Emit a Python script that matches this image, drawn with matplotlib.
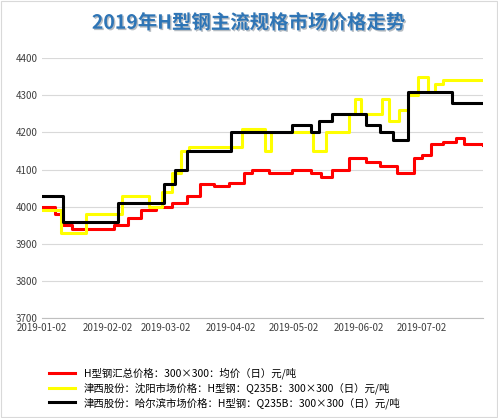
import matplotlib
matplotlib.use("Agg")
import matplotlib.pyplot as plt
import matplotlib.dates as mdates
import pandas as pd
import matplotlib.patheffects as pe

plt.rcParams['font.family'] = ['Noto Sans CJK SC', 'DejaVu Sans']

red_dates = ["2019-01-02","2019-01-08","2019-01-12","2019-01-16","2019-02-05","2019-02-12","2019-02-18","2019-02-25","2019-03-05","2019-03-12","2019-03-18","2019-03-25","2019-04-01","2019-04-08","2019-04-12","2019-04-20","2019-05-01","2019-05-10","2019-05-15","2019-05-20","2019-05-28","2019-06-05","2019-06-12","2019-06-20","2019-06-28","2019-07-02","2019-07-06","2019-07-12","2019-07-18","2019-07-22","2019-07-31"]
red_vals  = [4000,3980,3950,3940,3950,3970,3990,4000,4010,4030,4060,4055,4065,4090,4100,4090,4100,4090,4080,4100,4130,4120,4110,4090,4130,4140,4170,4175,4185,4170,4165]

yel_dates = ["2019-01-02","2019-01-11","2019-01-23","2019-02-09","2019-02-22","2019-02-28","2019-03-05","2019-03-09","2019-03-13","2019-04-07","2019-04-18","2019-04-21","2019-05-06","2019-05-11","2019-05-17","2019-05-28","2019-05-31","2019-06-03","2019-06-13","2019-06-16","2019-06-21","2019-06-25","2019-06-30","2019-07-05","2019-07-08","2019-07-12","2019-07-31"]
yel_vals  = [3990,3930,3980,4030,4000,4040,4090,4150,4160,4210,4150,4200,4200,4150,4200,4250,4290,4250,4290,4230,4260,4300,4350,4310,4330,4340,4340]

blk_dates = ["2019-01-02","2019-01-12","2019-01-16","2019-02-07","2019-02-22","2019-03-01","2019-03-06","2019-03-12","2019-04-02","2019-04-20","2019-05-01","2019-05-10","2019-05-14","2019-05-20","2019-05-28","2019-06-05","2019-06-12","2019-06-18","2019-06-25","2019-07-16","2019-07-31"]
blk_vals  = [4030,3960,3960,4010,4010,4060,4100,4150,4200,4200,4220,4200,4230,4250,4250,4220,4200,4180,4310,4280,4280]

labels = ["H型钢汇总价格：300×300：均价（日）元/吨",
          "津西股份：沈阳市场价格：H型钢：Q235B：300×300（日）元/吨",
          "津西股份：哈尔滨市场价格：H型钢：Q235B：300×300（日）元/吨"]

fig = plt.figure(figsize=(4.98, 4.18), dpi=100)
ax = fig.add_axes([0.085, 0.239, 0.885, 0.622])
for d, v, c, l in [(red_dates, red_vals, "#FF0000", labels[0]),
                   (yel_dates, yel_vals, "#FFFF00", labels[1]),
                   (blk_dates, blk_vals, "#000000", labels[2])]:
    ax.plot(pd.to_datetime(d), v, drawstyle="steps-post", color=c, lw=2.2, label=l)

ax.set_ylim(3700, 4400)
ax.set_xlim(pd.Timestamp("2019-01-02"), pd.Timestamp("2019-07-31"))
ax.set_xticks(pd.to_datetime(["2019-01-02","2019-02-02","2019-03-02","2019-04-02","2019-05-02","2019-06-02","2019-07-02"]))
ax.xaxis.set_major_formatter(mdates.DateFormatter("%Y-%m-%d"))
ax.tick_params(labelsize=7, length=0, colors="#404040")
ax.grid(axis="y", color="#D9D9D9", lw=0.8)
for s in ["top", "right", "left"]:
    ax.spines[s].set_visible(False)
ax.spines["bottom"].set_color("#BFBFBF")

fig.text(0.5, 0.945, "2019年H型钢主流规格市场价格走势", ha="center", va="center",
         fontsize=14, fontweight="bold", color="#2E75B6",
         path_effects=[pe.withSimplePatchShadow(offset=(1, -1), alpha=0.3)])
fig.legend(loc="lower left", bbox_to_anchor=(0.08, 0.0), frameon=False, fontsize=7.5,
           handlelength=2.5, labelspacing=0.3)
fig.patches.append(plt.Rectangle((0.002, 0.002), 0.996, 0.996, transform=fig.transFigure,
                                 fill=False, ec="#D9D9D9", lw=0.8))
fig.savefig("out.png", dpi=100)
